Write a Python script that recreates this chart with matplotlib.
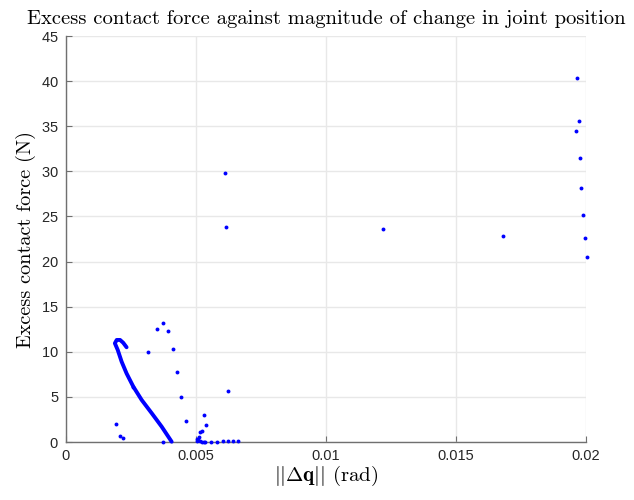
import matplotlib
matplotlib.use("Agg")
import matplotlib.pyplot as plt
import numpy as np

# isolated samples (rad, N)
dq_pts = [0.01967, 0.01972, 0.01962, 0.01977, 0.01982, 0.01987, 0.01995, 0.02003,
          0.0168, 0.01220, 0.00613, 0.00617, 0.00623,
          0.00374, 0.00350, 0.00394, 0.00315, 0.00413, 0.00428, 0.00443, 0.00460,
          0.00192, 0.00208, 0.00219, 0.00374, 0.00259,
          0.00529, 0.00540, 0.00523, 0.00517, 0.00510, 0.00505, 0.00502, 0.00508,
          0.00515, 0.00522, 0.00530, 0.00536,
          0.00559, 0.00581, 0.00603, 0.00623, 0.00641, 0.00660]
f_pts = [40.4, 35.6, 34.5, 31.5, 28.1, 25.2, 22.6, 20.5,
         22.8, 23.6, 29.8, 23.8, 5.6,
         13.15, 12.5, 12.3, 10.0, 10.3, 7.76, 4.99, 2.29,
         1.96, 0.63, 0.41, 0.03, 6.13,
         2.96, 1.85, 1.25, 1.14, 0.6, 0.35, 0.15, 0.25,
         0.1, 0.05, 0.05, 0.05,
         0.05, 0.05, 0.07, 0.08, 0.1, 0.12]

# densely sampled trajectory, traced as a line
dq_curve = [0.004064, 0.00368, 0.00330, 0.00291, 0.00259, 0.00233, 0.00214,
            0.00199, 0.00188, 0.00195, 0.00208, 0.00220, 0.00233]
f_curve = [0.03, 1.7, 3.18, 4.66, 6.13, 7.6, 8.9, 10.2, 10.94, 11.31, 11.31, 11.0, 10.5]

xticks = [0, 0.005, 0.01, 0.015, 0.02]
xticklabels = ['0', '0.005', '0.01', '0.015', '0.02']
yticks = list(range(0, 50, 5))

plt.rcParams['mathtext.fontset'] = 'cm'
plt.rcParams['axes.formatter.use_mathtext'] = True

fig = plt.figure(figsize=(6.34, 5.0), dpi=100)
ax = fig.add_axes([0.1041, 0.116, 0.8202, 0.812])

ax.plot(dq_curve, f_curve, color=(0, 0, 1), lw=2.8, solid_capstyle='round',
        clip_on=False, zorder=3)
ax.plot(dq_pts, f_pts, 'o', color=(0, 0, 1), ms=2.8, mew=0, clip_on=False, zorder=3)

ax.set_xlim(0, 0.02)
ax.set_ylim(0, 45)
ax.set_xticks(xticks)
ax.set_xticklabels(xticklabels)
ax.set_yticks(yticks)

for lab in ax.get_xticklabels() + ax.get_yticklabels():
    lab.set_fontfamily('Liberation Sans')
    lab.set_fontsize(10.5)
    lab.set_color('#262626')

ax.grid(True, color='#e8e8e8', lw=1.0)
ax.set_axisbelow(True)
ax.spines['top'].set_visible(False)
ax.spines['right'].set_visible(False)
for s in ('left', 'bottom'):
    ax.spines[s].set_color('#707070')
    ax.spines[s].set_linewidth(1.0)
ax.tick_params(direction='in', length=4, color='#707070', pad=5)

ax.set_title('Excess contact force against magnitude of change in joint position',
             fontfamily='cmr10', fontsize=14.8, pad=9)
ax.set_xlabel(r'$||\mathbf{\Delta q}||$ (rad)', fontfamily='cmr10', fontsize=15, labelpad=1)
ax.set_ylabel('Excess contact force (N)', fontfamily='cmr10', fontsize=14.6, labelpad=4)

fig.savefig('out.png', dpi=100)
